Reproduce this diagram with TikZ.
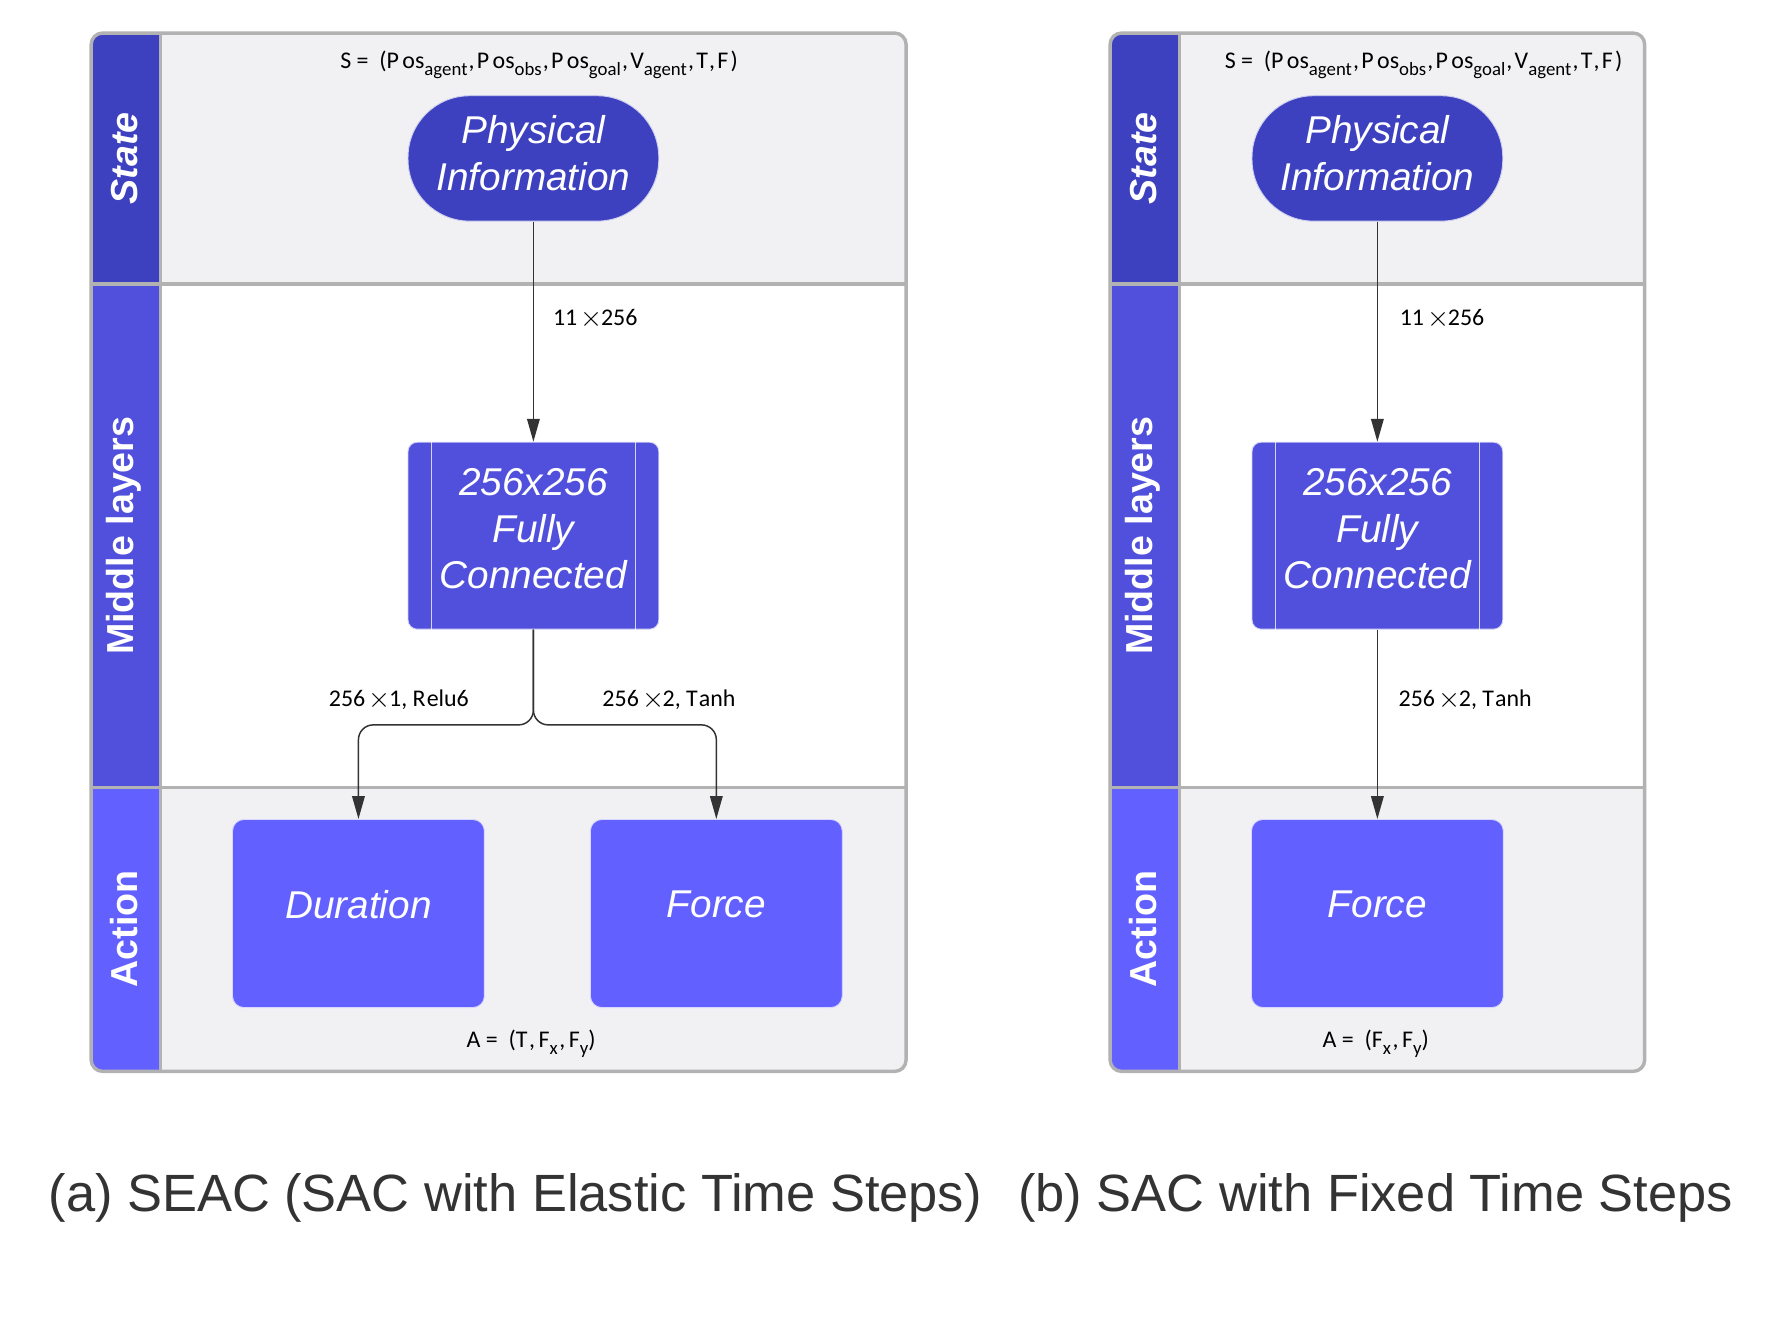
\documentclass[tikz,border=0pt]{standalone}
\usepackage{fontspec}
\setmainfont{Liberation Sans}
\newfontfamily\lblfont{Carlito}
\usetikzlibrary{arrows.meta}
\definecolor{cState}{RGB}{61,65,192}
\definecolor{cMid}{RGB}{80,80,221}
\definecolor{cAct}{RGB}{98,97,255}
\definecolor{laneBg}{RGB}{241,241,244}
\definecolor{frameGray}{RGB}{178,178,178}
\definecolor{inkDark}{RGB}{51,51,51}
\newcommand{\sbs}[1]{\raisebox{-0.3em}{\fontsize{16.5}{16}\selectfont #1}}
\newcommand{\tms}{\kern3pt\raisebox{-0.5pt}{\scalebox{1.2}{\ensuremath{\times}}}\kern-1.5pt}
\begin{document}
\begin{tikzpicture}[x=1pt,y=-1pt,
  blk/.style={draw=white!75!#1, line width=0.8pt, fill=#1, inner sep=0pt},
  blktxt/.style={text=white, font=\fontsize{34}{41}\selectfont\itshape, align=center, inner sep=0pt},
  lanehdr/.style={rotate=90, text=white, font=\fontsize{33}{40}\selectfont\bfseries, inner sep=0pt},
  framel/.style={draw=frameGray, line width=3pt},
  edge/.style={draw=inkDark, line width=1.3pt, -{Triangle[length=20pt,width=11pt]}},
  lbl/.style={text=black, font=\lblfont\fontsize{21}{25}\selectfont, inner sep=0pt},
  capt/.style={text=inkDark, font=\fontsize{46}{52}\selectfont, inner sep=0pt},
  fcline/.style={draw=white, opacity=0.75, line width=1pt}
]
\useasboundingbox[fill=white] (0,0) rectangle (1560,1170.4);

% ---------------- Panel A ----------------
\begin{scope}
\clip[rounded corners=10pt] (80,29) rectangle (795,940);
\fill[laneBg] (80,29) rectangle (795,249);
\fill[white] (80,249) rectangle (795,691);
\fill[laneBg] (80,691) rectangle (795,940);
\fill[cState] (80,29) rectangle (141,249);
\fill[cMid] (80,249) rectangle (141,691);
\fill[cAct] (80,691) rectangle (141,940);
\end{scope}
\draw[framel] (80,249) -- (795,249);
\draw[framel] (80,691) -- (795,691);
\draw[framel] (141,29) -- (141,940);
\draw[framel, rounded corners=10pt] (80,29) rectangle (795,940);

\node[lanehdr, font=\fontsize{33}{40}\selectfont\bfseries\itshape] (hsA) at (109,139) {State};
\node[lanehdr] (hmA) at (109,470) {Middle layers};
\node[lanehdr] (haA) at (109,815) {Action};

\node[lbl] (sA) at (473,57) {S =\ \ (P\kern3pt os\sbs{agent}\kern1pt,\kern2pt P\kern3pt os\sbs{obs}\kern1pt,\kern2pt P\kern3pt os\sbs{goal}\kern1pt,\kern2pt V\sbs{agent}\kern1pt,\kern2pt T\kern1pt,\kern2pt F\kern2pt)};

\node[blk=cState, minimum width=220pt, minimum height=110pt, rounded corners=54pt] (physA) at (468,139) {};
\node[blktxt] (physAt) at (468,134.5) {Physical\\Information};
\node[blk=cMid, minimum width=220pt, minimum height=164pt, rounded corners=8pt] (fcA) at (468,470) {};
\node[blktxt] (fcAt) at (468,464) {256x256\\Fully\\Connected};
\draw[fcline] ([xshift=21pt]fcA.north west) -- ([xshift=21pt]fcA.south west);
\draw[fcline] ([xshift=-21pt]fcA.north east) -- ([xshift=-21pt]fcA.south east);
\node[blk=cAct, minimum width=221pt, minimum height=165pt, rounded corners=10pt] (durA) at (314.5,801.5) {};
\node[blktxt] (durAt) at (314.5,793.5) {Duration};
\node[blk=cAct, minimum width=221pt, minimum height=165pt, rounded corners=10pt] (forA) at (628.5,801.5) {};
\node[blktxt] (forAt) at (628.5,793.5) {Force};

\coordinate (jA) at (468,636);
\draw[edge] (physA.south) -- (fcA.north);
\draw[edge, rounded corners=13pt] (fcA.south) -- (jA) -| (durA.north);
\draw[edge, rounded corners=13pt] (fcA.south) -- (jA) -| (forA.north);

\node[lbl, anchor=west] (l1A) at (485,280) {11\tms256};
\node[lbl] (l2A) at (350,614) {256\tms1, R\kern1pt elu6};
\node[lbl] (l3A) at (587,614) {256\tms2, T\kern1pt anh};
\node[lbl] (aA) at (466,916) {A =\ \ (T\kern1.5pt,\kern3pt F\sbs{x}\kern1.5pt,\kern3pt F\sbs{y})};

% ---------------- Panel B ----------------
\begin{scope}
\clip[rounded corners=10pt] (974,29) rectangle (1443,940);
\fill[laneBg] (974,29) rectangle (1443,249);
\fill[white] (974,249) rectangle (1443,691);
\fill[laneBg] (974,691) rectangle (1443,940);
\fill[cState] (974,29) rectangle (1035,249);
\fill[cMid] (974,249) rectangle (1035,691);
\fill[cAct] (974,691) rectangle (1035,940);
\end{scope}
\draw[framel] (974,249) -- (1443,249);
\draw[framel] (974,691) -- (1443,691);
\draw[framel] (1035,29) -- (1035,940);
\draw[framel, rounded corners=10pt] (974,29) rectangle (1443,940);

\node[lanehdr, font=\fontsize{33}{40}\selectfont\bfseries\itshape] (hsB) at (1003,139) {State};
\node[lanehdr] (hmB) at (1003,470) {Middle layers};
\node[lanehdr] (haB) at (1003,815) {Action};

\node[lbl] (sB) at (1249,57) {S =\ \ (P\kern3pt os\sbs{agent}\kern1pt,\kern2pt P\kern3pt os\sbs{obs}\kern1pt,\kern2pt P\kern3pt os\sbs{goal}\kern1pt,\kern2pt V\sbs{agent}\kern1pt,\kern2pt T\kern1pt,\kern2pt F\kern2pt)};

\node[blk=cState, minimum width=220pt, minimum height=110pt, rounded corners=54pt] (physB) at (1208.5,139) {};
\node[blktxt] (physBt) at (1208.5,134.5) {Physical\\Information};
\node[blk=cMid, minimum width=220pt, minimum height=164pt, rounded corners=8pt] (fcB) at (1208.5,470) {};
\node[blktxt] (fcBt) at (1208.5,464) {256x256\\Fully\\Connected};
\draw[fcline] ([xshift=21pt]fcB.north west) -- ([xshift=21pt]fcB.south west);
\draw[fcline] ([xshift=-21pt]fcB.north east) -- ([xshift=-21pt]fcB.south east);
\node[blk=cAct, minimum width=221pt, minimum height=165pt, rounded corners=10pt] (forB) at (1208.5,801.5) {};
\node[blktxt] (forBt) at (1208.5,793.5) {Force};

\draw[edge] (physB.south) -- (fcB.north);
\draw[edge] (fcB.south) -- (forB.north);

\node[lbl, anchor=west] (l1B) at (1228,280) {11\tms256};
\node[lbl, anchor=west] (l3B) at (1227,614) {256\tms2, T\kern1pt anh};
\node[lbl] (aB) at (1207,916) {A =\ \ (F\sbs{x}\kern1.5pt,\kern3pt F\sbs{y})};

% ---------------- Captions ----------------
\node[capt] (capA) at (452,1051) {(a) SEAC (SAC with Elastic Time Steps)};
\node[capt] (capB) at (1207,1051) {(b) SAC with Fixed Time Steps};
\end{tikzpicture}
\end{document}
